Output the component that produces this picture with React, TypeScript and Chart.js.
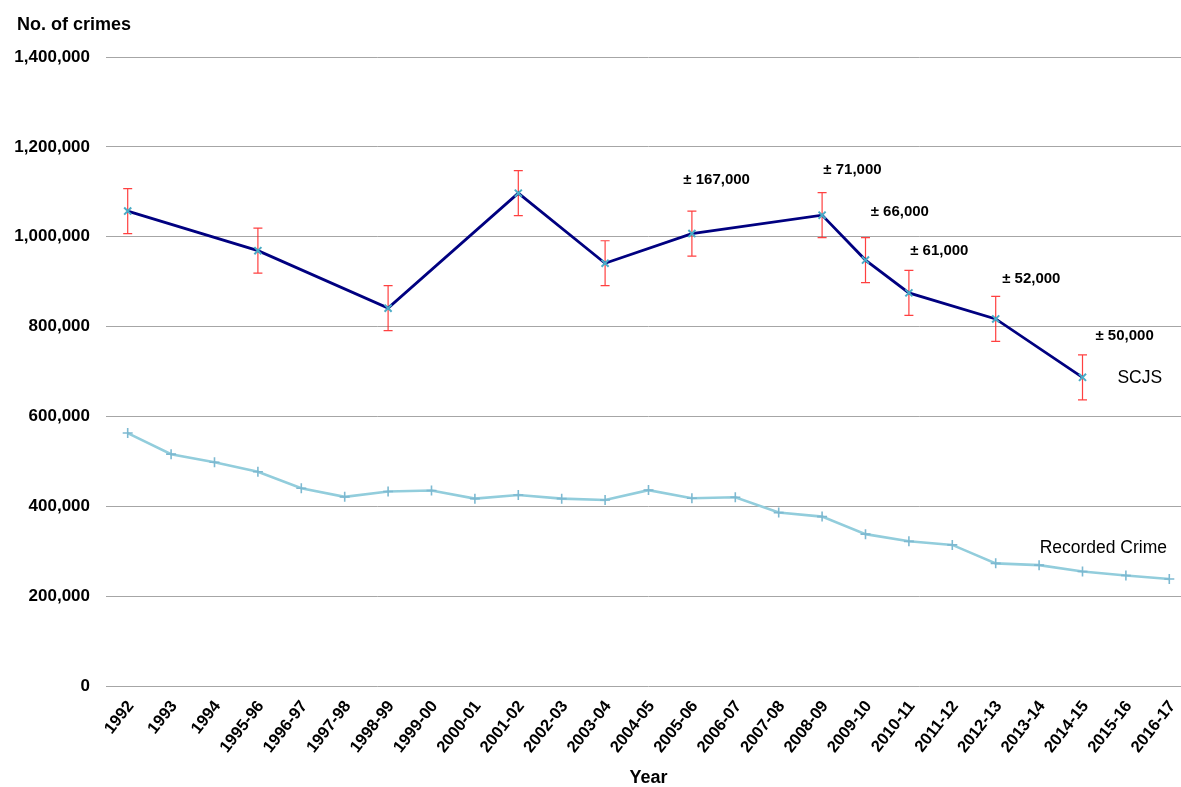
import React, { useEffect, useRef } from "react";
import { Chart, registerables } from "chart.js";

Chart.register(...registerables);

const categories = [
  "1992", "1993", "1994", "1995-96", "1996-97", "1997-98", "1998-99", "1999-00",
  "2000-01", "2001-02", "2002-03", "2003-04", "2004-05", "2005-06", "2006-07",
  "2007-08", "2008-09", "2009-10", "2010-11", "2011-12", "2012-13", "2013-14",
  "2014-15", "2015-16", "2016-17",
];

const scjs = [
  1057000, null, null, 969000, null, null, 841000, null, null, 1097000, null,
  941000, null, 1007000, null, null, 1048000, 948000, 875000, null, 817000, null,
  687000, null, null,
];

const scjsMargin = [
  50000, null, null, 50000, null, null, 50000, null, null, 50000, null,
  50000, null, 50000, null, null, 50000, 50000, 50000, null, 50000, null,
  50000, null, null,
];

const recordedCrime = [
  563000, 516000, 498000, 477000, 440000, 421000, 433000, 435000, 417000,
  425000, 417000, 414000, 436000, 418000, 420000, 386000, 377000, 338000,
  322000, 314000, 273000, 269000, 255000, 246000, 238000,
];

const yTicks = [0, 200000, 400000, 600000, 800000, 1000000, 1200000, 1400000];

// confidence interval notes, anchored in data space (category index, value)
const ciLabels = ["± 167,000", "± 71,000", "± 66,000", "± 61,000", "± 52,000", "± 50,000"];
const ciLabelIndex = [13.57, 16.7, 17.79, 18.7, 20.82, 22.97];
const ciLabelValue = [1126000, 1148500, 1055000, 968000, 906000, 779000];

const seriesNames = ["SCJS", "Recorded Crime"];
const seriesNameIndex = [23.32, 22.48];
const seriesNameValue = [685500, 307000];

const FONT = "'Liberation Sans', Arial, Helvetica, sans-serif";

const fmt = (v: number) => v.toLocaleString("en-GB");

export default function App() {
  const ref = useRef<HTMLCanvasElement | null>(null);

  useEffect(() => {
    if (!ref.current) return;

    const extras = {
      id: "extras",
      beforeDatasetsDraw(chart: any) {
        const ctx = chart.ctx;
        const x = chart.scales.x;
        const y = chart.scales.y;
        ctx.save();
        ctx.strokeStyle = "rgba(255,30,30,0.85)";
        ctx.lineWidth = 1.2;
        scjs.forEach((v, i) => {
          const m = scjsMargin[i];
          if (v == null || m == null) return;
          const px = x.getPixelForValue(i);
          const top = y.getPixelForValue(v + m);
          const bot = y.getPixelForValue(v - m);
          ctx.beginPath();
          ctx.moveTo(px, top);
          ctx.lineTo(px, bot);
          ctx.moveTo(px - 4.5, top);
          ctx.lineTo(px + 4.5, top);
          ctx.moveTo(px - 4.5, bot);
          ctx.lineTo(px + 4.5, bot);
          ctx.stroke();
        });
        ctx.restore();
      },
      afterDraw(chart: any) {
        const ctx = chart.ctx;
        const x = chart.scales.x;
        const y = chart.scales.y;
        const area = chart.chartArea;
        ctx.save();
        ctx.fillStyle = "#000";
        ctx.textBaseline = "middle";
        ctx.textAlign = "center";
        ctx.font = `bold 15px ${FONT}`;
        ciLabels.forEach((t, i) => {
          ctx.fillText(t, x.getPixelForValue(ciLabelIndex[i]), y.getPixelForValue(ciLabelValue[i]));
        });
        ctx.font = `17.5px ${FONT}`;
        seriesNames.forEach((t, i) => {
          ctx.fillText(t, x.getPixelForValue(seriesNameIndex[i]), y.getPixelForValue(seriesNameValue[i]));
        });
        ctx.font = `bold 18px ${FONT}`;
        ctx.textAlign = "left";
        ctx.fillText("No. of crimes", 17, 25);
        ctx.textAlign = "center";
        ctx.fillText("Year", (area.left + area.right) / 2, 778);
        ctx.restore();
      },
    };

    const chart = new Chart(ref.current, {
      type: "line",
      data: {
        labels: categories,
        datasets: [
          {
            label: "SCJS",
            data: scjs,
            spanGaps: true,
            borderColor: "#000080",
            borderWidth: 2.8,
            pointStyle: "crossRot",
            pointRadius: 5,
            pointBorderColor: "#4BACC6",
            pointBackgroundColor: "#4BACC6",
            pointBorderWidth: 2,
            tension: 0,
          },
          {
            label: "Recorded Crime",
            data: recordedCrime,
            borderColor: "#92CDDC",
            borderWidth: 2.6,
            pointStyle: "cross",
            pointRadius: 5,
            pointBorderColor: "#7DB9D1",
            pointBackgroundColor: "#7DB9D1",
            pointBorderWidth: 1.6,
            tension: 0,
          },
        ],
      },
      options: {
        animation: false,
        responsive: false,
        devicePixelRatio: 1,
        layout: { padding: { top: 57, right: 9, left: 0, bottom: 0 } },
        plugins: {
          legend: { display: false },
          tooltip: { enabled: false },
          title: { display: false },
        },
        scales: {
          x: {
            type: "category",
            offset: true,
            grid: { display: false, drawTicks: false },
            border: { display: false },
            ticks: {
              autoSkip: false,
              minRotation: 52,
              maxRotation: 52,
              padding: 11,
              labelOffset: 3,
              color: "#000",
              font: { family: FONT, size: 16.5, weight: "bold" },
            },
            afterFit: (s: any) => {
              s.height = 101;
            },
          },
          y: {
            min: 0,
            max: 1400000,
            afterBuildTicks: (s: any) => {
              s.ticks = yTicks.map((v) => ({ value: v }));
            },
            grid: { color: "#A6A6A6", lineWidth: 1, drawTicks: false },
            border: { display: false },
            ticks: {
              padding: 16,
              color: "#000",
              font: { family: FONT, size: 17, weight: "bold" },
              callback: (v: any) => fmt(Number(v)),
            },
            afterFit: (s: any) => {
              s.width = 106;
            },
          },
        },
      },
      plugins: [extras],
    });

    return () => chart.destroy();
  }, []);

  return (
    <div
      style={{
        position: "absolute",
        left: 0,
        top: 0,
        width: 1181,
        height: 787,
        overflow: "hidden",
        background: "#fff",
      }}
    >
      <canvas ref={ref} width={1200} height={787} style={{ display: "block", width: 1200, height: 787 }} />
    </div>
  );
}
